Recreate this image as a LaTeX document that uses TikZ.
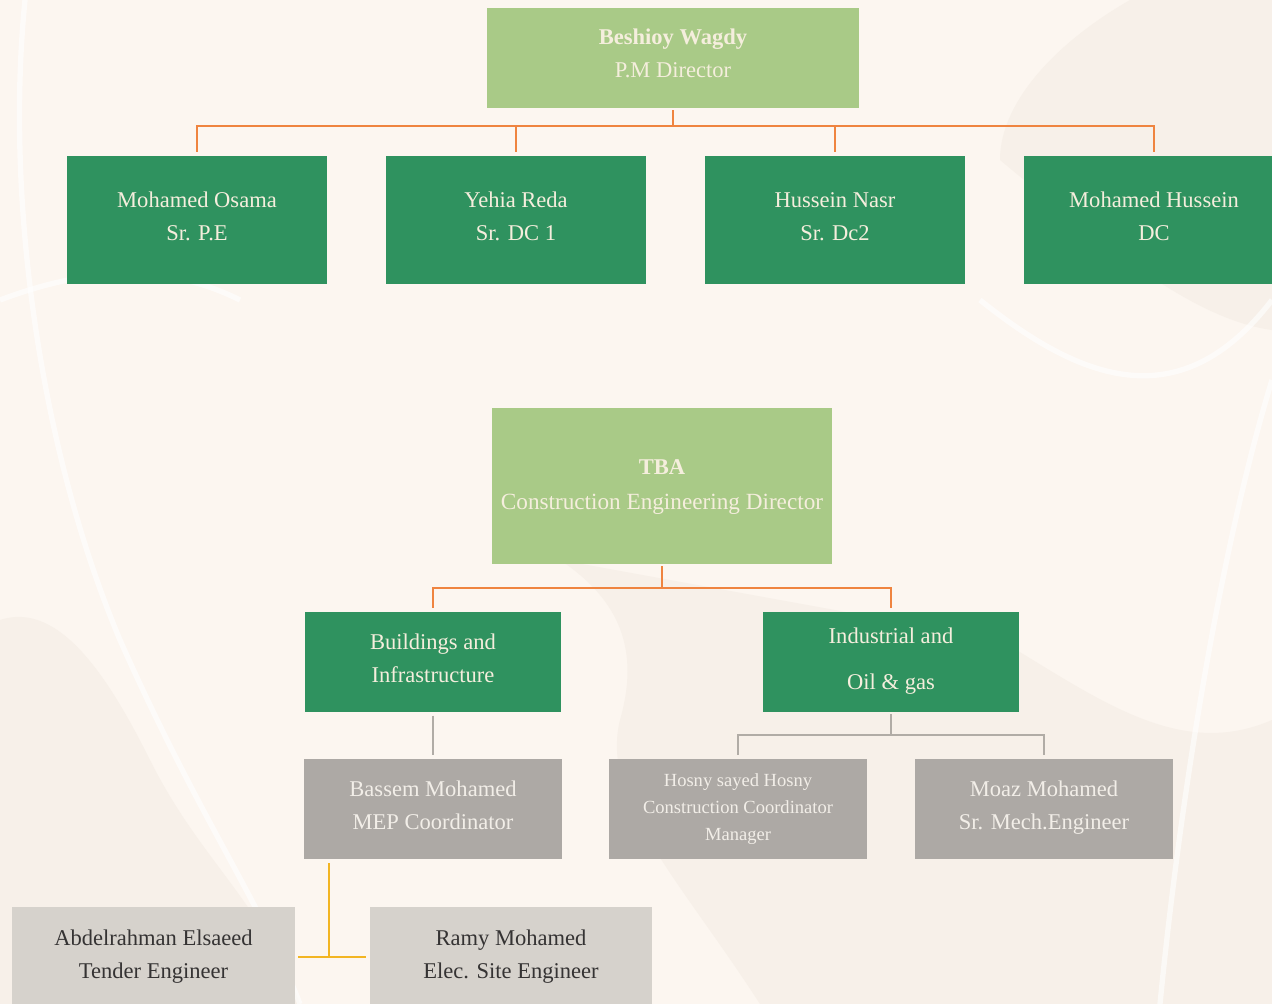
\documentclass[tikz,border=0pt]{standalone}
\usepackage{fontspec}
\setmainfont{Liberation Serif}
\newcommand\tx[2][2pt]{\raisebox{#1}[\height][\depth]{\begin{tabular}{@{}c@{}}#2\end{tabular}}}
\begin{document}
\begin{tikzpicture}[x=0.75pt,y=-0.75pt,
  base/.style={inner sep=0pt,align=center,font=\fontsize{16.9}{24.75}\selectfont},
  lgreen/.style={base,fill=lgreenc,text=creamc},
  dgreen/.style={base,fill=dgreenc,text=creamc,minimum width=195pt,minimum height=96pt},
  gbox/.style={base,fill=grayc,text=gtextc,minimum width=193.5pt,minimum height=75pt},
  lbox/.style={base,fill=lgrayc,text=darkc,minimum width=212pt,minimum height=75pt},
  orgline/.style={draw=orangec,line width=1.5pt},
  grayline/.style={draw=glinec,line width=1.5pt},
  yelline/.style={draw=yellowc,line width=1.5pt},
  deco/.style={white,line width=4pt,opacity=0.6}]
\definecolor{bgc}{HTML}{FCF6F0}
\definecolor{blobc}{HTML}{F7F0E9}
\definecolor{lgreenc}{HTML}{A9CA87}
\definecolor{dgreenc}{HTML}{2F925F}
\definecolor{creamc}{HTML}{F5EEDD}
\definecolor{grayc}{HTML}{ADA9A5}
\definecolor{gtextc}{HTML}{F2EEE8}
\definecolor{lgrayc}{HTML}{D6D2CC}
\definecolor{darkc}{HTML}{353333}
\definecolor{orangec}{HTML}{EF8440}
\definecolor{glinec}{HTML}{B1ACA6}
\definecolor{yellowc}{HTML}{F2B523}
% background
\fill[bgc] (0,0) rectangle (1272,1004);
\useasboundingbox (0,0) rectangle (1272,1004);
% faint decoration
\fill[blobc] (0,620) .. controls (60,600) and (110,680) .. (150,760) .. controls (200,860) and (260,900) .. (300,1004) -- (0,1004) -- cycle;
\fill[blobc] (560,560) .. controls (620,600) and (640,650) .. (620,720) .. controls (600,800) and (680,880) .. (760,1004) -- (1272,1004) -- (1272,720) .. controls (1180,760) and (1100,700) .. (1000,640) -- cycle;
\fill[blobc] (1000,160) .. controls (1120,260) and (1200,320) .. (1272,330) -- (1272,0) -- (1130,0) .. controls (1060,40) and (1000,100) .. cycle;
\draw[deco] (25,0) .. controls (5,200) and (40,450) .. (120,640) .. controls (200,820) and (260,900) .. (300,1004);
\draw[deco] (0,300) .. controls (80,270) and (160,260) .. (240,300);
\draw[deco] (1272,380) .. controls (1220,550) and (1180,800) .. (1160,1004);
\draw[deco] (980,300) .. controls (1080,380) and (1180,420) .. (1272,300);
% nodes
\node[lgreen,minimum width=279pt,minimum height=75pt] (pm) at (673,58) {\tx[3pt]{{\bfseries Beshioy Wagdy}\\P.M Director}};
\node[dgreen] (c1) at (197,220) {\tx{Mohamed Osama\\Sr. P.E}};
\node[dgreen] (c2) at (516,220) {\tx{Yehia Reda\\Sr. DC 1}};
\node[dgreen] (c3) at (835,220) {\tx{Hussein Nasr\\Sr. Dc2}};
\node[dgreen] (c4) at (1154,220) {\tx{Mohamed Hussein\\DC}};
\node[lgreen,minimum width=255pt,minimum height=117pt] (ced) at (662,486) {\tx[0.5pt]{{\bfseries TBA}\\[1pt]\fontsize{17.4}{24.75}\selectfont Construction Engineering Director}};
\node[dgreen,minimum width=192pt,minimum height=75pt] (bi) at (433,662) {\tx{Buildings and\\Infrastructure}};
\node[dgreen,minimum width=192pt,minimum height=75pt] (io) at (891,662) {\tx[1.5pt]{Industrial and\\[10pt]Oil \& gas}};
\node[gbox] (bm) at (433,809) {\tx{Bassem Mohamed\\MEP Coordinator}};
\node[gbox,font=\fontsize{13.9}{20.3}\selectfont] (hs) at (738,809) {\tx[0.5pt]{Hosny sayed Hosny\\Construction Coordinator\\Manager}};
\node[gbox] (mm) at (1044,809) {\tx{Moaz Mohamed\\Sr. Mech.Engineer}};
\node[lbox] (ae) at (153.5,957) {\tx[1pt]{Abdelrahman Elsaeed\\Tender Engineer}};
\node[lbox,minimum width=211.5pt] (rm) at (511,957) {\tx[1pt]{Ramy Mohamed\\Elec. Site Engineer}};
% connectors
\foreach \c in {c1,c2,c3,c4}
  \draw[orgline,shorten <=1.5pt,shorten >=3pt] (pm.south) -- ++(0,18) -| (\c.north);
\foreach \c in {bi,io}
  \draw[orgline,shorten <=1.5pt,shorten >=3pt] (ced.south) -- ++(0,24) -| (\c.north);
\draw[grayline,shorten <=2.5pt,shorten >=3pt] (bi.south) -- (bm.north);
\foreach \c in {hs,mm}
  \draw[grayline,shorten <=1.5pt,shorten >=3pt] (io.south) -- ++(0,23) -| (\c.north);
\coordinate (yj) at (329,957);
\draw[yelline,shorten <=3pt] (bm.south -| yj) -- (yj);
\draw[yelline,shorten <=2.5pt,shorten >=2.5pt] (ae.east) -- (rm.west);
\end{tikzpicture}
\end{document}
